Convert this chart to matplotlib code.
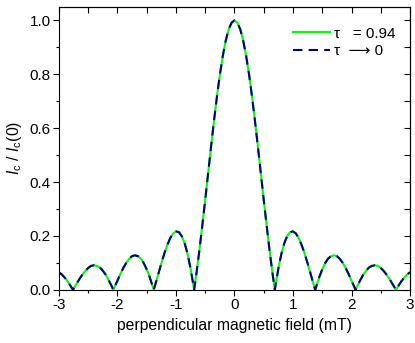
import matplotlib
matplotlib.use('Agg')
import matplotlib.pyplot as plt
from matplotlib.ticker import MultipleLocator

plt.rcParams.update({
    'font.family': ['Liberation Sans', 'DejaVu Sans'],
    'font.size': 11,
    'mathtext.fontset': 'custom',
    'mathtext.rm': 'Liberation Sans',
    'mathtext.it': 'Liberation Sans:italic',
})

# field values (mT)
field = [-3.00, -2.95, -2.90, -2.85, -2.80, -2.76, -2.70, -2.65, -2.60, -2.55,
         -2.50, -2.45, -2.40, -2.35, -2.30, -2.25, -2.20, -2.15, -2.10, -2.07,
         -2.05, -2.00, -1.95, -1.90, -1.85, -1.80, -1.75, -1.70, -1.65, -1.60,
         -1.55, -1.50, -1.45, -1.40, -1.38, -1.35, -1.30, -1.25, -1.20, -1.15,
         -1.10, -1.05, -1.00, -0.95, -0.90, -0.85, -0.80, -0.75, -0.70, -0.69,
         -0.65, -0.60, -0.55, -0.50, -0.45, -0.40, -0.35, -0.30, -0.25, -0.20,
         -0.15, -0.10, -0.05, 0.00, 0.05, 0.10, 0.15, 0.20, 0.25, 0.30,
         0.35, 0.40, 0.45, 0.50, 0.55, 0.60, 0.65, 0.69, 0.70, 0.75,
         0.80, 0.85, 0.90, 0.95, 1.00, 1.05, 1.10, 1.15, 1.20, 1.25,
         1.30, 1.35, 1.38, 1.40, 1.45, 1.50, 1.55, 1.60, 1.65, 1.70,
         1.75, 1.80, 1.85, 1.90, 1.95, 2.00, 2.05, 2.07, 2.10, 2.15,
         2.20, 2.25, 2.30, 2.35, 2.40, 2.45, 2.50, 2.55, 2.60, 2.65,
         2.70, 2.76, 2.80, 2.85, 2.90, 2.95, 3.00]

# normalised critical current, tau = 0.94
ic_tau094 = [0.065, 0.057, 0.045, 0.031, 0.014, 0.000, 0.022, 0.040, 0.056, 0.070,
             0.081, 0.089, 0.091, 0.089, 0.083, 0.071, 0.056, 0.036, 0.014, 0.000,
             0.010, 0.034, 0.059, 0.081, 0.100, 0.115, 0.125, 0.128, 0.125, 0.116,
             0.099, 0.076, 0.048, 0.014, 0.000, 0.022, 0.060, 0.098, 0.134, 0.165,
             0.191, 0.209, 0.217, 0.214, 0.199, 0.172, 0.132, 0.079, 0.014, 0.000,
             0.061, 0.146, 0.238, 0.334, 0.433, 0.532, 0.627, 0.717, 0.798, 0.867,
             0.924, 0.966, 0.991, 1.000, 0.991, 0.966, 0.924, 0.867, 0.798, 0.717,
             0.627, 0.532, 0.433, 0.334, 0.238, 0.146, 0.061, 0.000, 0.014, 0.079,
             0.132, 0.172, 0.199, 0.214, 0.217, 0.209, 0.191, 0.165, 0.134, 0.098,
             0.060, 0.022, 0.000, 0.014, 0.048, 0.076, 0.099, 0.116, 0.125, 0.128,
             0.125, 0.115, 0.100, 0.081, 0.059, 0.034, 0.010, 0.000, 0.014, 0.036,
             0.056, 0.071, 0.083, 0.089, 0.091, 0.089, 0.081, 0.070, 0.056, 0.040,
             0.022, 0.000, 0.014, 0.031, 0.045, 0.057, 0.065]

# tau -> 0 limit (indistinguishable in the figure)
ic_tau0 = list(ic_tau094)

fig = plt.figure(figsize=(4.15, 3.43), dpi=100)
ax = fig.add_axes([0.142, 0.155, 0.846, 0.825])

ax.plot(field, ic_tau094, color='#00ff00', lw=1.5, label='\u03c4   = 0.94')
ax.plot(field, ic_tau0, color='#000080', lw=1.5, ls=(0, (4.5, 3)), label='\u03c4  \u27f6 0')

ax.set_xlim(-3, 3)
ax.set_ylim(0, 1.05)
ax.xaxis.set_major_locator(MultipleLocator(1))
ax.xaxis.set_minor_locator(MultipleLocator(0.5))
ax.yaxis.set_major_locator(MultipleLocator(0.2))
ax.yaxis.set_minor_locator(MultipleLocator(0.1))
ax.set_xticks([-3, -2, -1, 0, 1, 2, 3])
ax.set_xticklabels(['-3', '-2', '-1', '0', '1', '2', '3'])
ax.tick_params(which='major', direction='out', length=4, width=0.8, labelsize=11, pad=2)
ax.tick_params(which='minor', direction='out', length=2.5, width=0.8)

top = ax.secondary_xaxis('top')
top.xaxis.set_major_locator(MultipleLocator(0.5))
top.tick_params(direction='in', length=4, width=0.8, labeltop=False)
right = ax.secondary_yaxis('right')
right.yaxis.set_major_locator(MultipleLocator(0.1))
right.tick_params(direction='in', length=4, width=0.8, labelright=False)

ax.set_xlabel('perpendicular magnetic field (mT)', fontsize=11.3, labelpad=4)
ax.set_ylabel(r'$I_\mathrm{c}$ / $I_\mathrm{c}$(0)', fontsize=11.3, labelpad=4)

ax.legend(loc='upper right', bbox_to_anchor=(0.975, 0.952), frameon=False,
          handlelength=2.4, fontsize=11, borderaxespad=0, handletextpad=0.25,
          labelspacing=0.25)

fig.savefig('out.png', dpi=100)
